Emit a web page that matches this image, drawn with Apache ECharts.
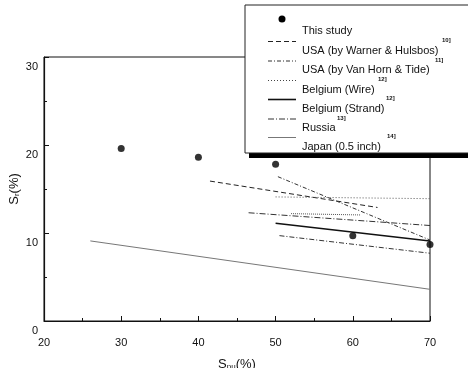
<!DOCTYPE html>
<html>
<head>
<meta charset="utf-8">
<script src="https://cdn.jsdelivr.net/npm/echarts@6/dist/echarts.min.js"></script>
<style>
  html, body { margin: 0; padding: 0; background: #fff; }
  #chart { width: 468px; height: 368px; }
</style>
</head>
<body>
<div id="chart"></div>
<script>
// data
var studyX = [30, 40, 50, 60, 70];
var studyY = [19.6, 18.6, 17.8, 9.7, 8.7];

var warnerX = [41.5, 63.2];
var warnerY = [15.9, 12.9];

var vanHornX = [50.3, 70];
var vanHornY = [16.4, 9.2];

var wireX = [50, 70];
var wireY = [14.1, 13.9];

var wireShortX = [52, 61];
var wireShortY = [12.2, 12.05];

var strandX = [50, 70];
var strandY = [11.1, 9.1];

var russiaX = [46.5, 70];
var russiaY = [12.3, 10.85];

var russiaLowX = [50.5, 70];
var russiaLowY = [9.7, 7.7];

var japanX = [26, 70];
var japanY = [9.1, 3.6];

var xTicks = [20, 30, 40, 50, 60, 70];
var yTicks = [0, 10, 20, 30];

var legendNames = ['This study', 'USA (by Warner & Hulsbos)', 'USA (by Van Horn & Tide)',
  'Belgium (Wire)', 'Belgium (Strand)', 'Russia', 'Japan (0.5 inch)'];
var legendRefs = ['', '10]', '11]', '12]', '12]', '13]', '14]'];

function pairs(xs, ys) {
  var out = [];
  for (var i in xs) {
    out.push([xs[i], ys[i]]);
  }
  return out;
}

var font = 'Arial, "Liberation Sans", Helvetica, sans-serif';

function lineSeries(xs, ys, dash, color, width) {
  return {
    type: 'line',
    data: pairs(xs, ys),
    symbol: 'none',
    silent: true,
    lineStyle: { color: color, width: width, type: dash }
  };
}

var chart = echarts.init(document.getElementById('chart'));

// legend drawn by hand, it sits on top of the frame with a hard shadow
var lx = 245, ly = 5;
var rowY = [31, 50.5, 70, 89.5, 108.5, 128, 146.5];
var refX = [0, 442, 435, 378, 386, 337, 387];
var legendDash = [null, [5, 3], [4, 2, 1, 2], [1, 2], null, [6, 2, 1, 2], null];
var legendColor = ['#000', '#222', '#333', '#444', '#111', '#333', '#777'];
var legendWidth = [1, 1, 1, 1, 1.6, 1, 1];

var legendEls = [
  { type: 'rect', z: 100, shape: { x: lx + 4, y: ly + 5, width: 240, height: 148 }, style: { fill: '#000' } },
  { type: 'rect', z: 101, shape: { x: lx, y: ly, width: 240, height: 148 }, style: { fill: '#fff', stroke: '#222', lineWidth: 1 } }
];
for (var i = 0; i < legendNames.length; i++) {
  if (i === 0) {
    legendEls.push({ type: 'circle', z: 102, shape: { cx: 282, cy: 19, r: 3.5 }, style: { fill: '#000' } });
  } else {
    legendEls.push({
      type: 'line', z: 102,
      shape: { x1: 268, y1: rowY[i] - 9, x2: 296, y2: rowY[i] - 9 },
      style: { stroke: legendColor[i], lineWidth: legendWidth[i], lineDash: legendDash[i] }
    });
  }
  legendEls.push({
    type: 'text', z: 102, x: 302, y: rowY[i],
    style: { text: legendNames[i], font: '11px ' + font, fill: '#111', verticalAlign: 'middle' }
  });
  if (legendRefs[i]) {
    legendEls.push({
      type: 'text', z: 102, x: refX[i], y: rowY[i] - 10,
      style: { text: legendRefs[i], font: 'bold 6px ' + font, fill: '#111', verticalAlign: 'middle' }
    });
  }
}

var option = {
  backgroundColor: '#fff',
  animation: false,
  grid: {
    left: 44, right: 38, top: 57, bottom: 47,
    outerBoundsMode: 'none',
    containLabel: false,
    show: true, borderColor: '#111', borderWidth: 1, backgroundColor: 'transparent'
  },
  xAxis: {
    type: 'value',
    min: xTicks[0], max: xTicks[xTicks.length - 1], interval: 10,
    name: 'S{sub|pu}(%)',
    nameLocation: 'middle',
    nameGap: 37,
    nameMoveOverlap: false,
    nameTextStyle: {
      fontSize: 13, fontFamily: font, color: '#111',
      rich: { sub: { fontSize: 8, fontFamily: font, color: '#111', verticalAlign: 'bottom' } }
    },
    axisLine: { show: true, onZero: false, lineStyle: { color: '#111', width: 1.2 } },
    axisTick: { show: true, inside: true, length: 5, lineStyle: { color: '#111' } },
    minorTick: { show: true, splitNumber: 2, length: 3, lineStyle: { color: '#111' } },
    splitLine: { show: false },
    axisLabel: { margin: 16, fontSize: 11, fontFamily: font, color: '#111' }
  },
  yAxis: {
    type: 'value',
    min: yTicks[0], max: yTicks[yTicks.length - 1], interval: 10,
    name: 'S{sub|r}(%)',
    nameLocation: 'middle',
    nameRotate: 90,
    nameGap: 23,
    nameMoveOverlap: false,
    nameTextStyle: {
      fontSize: 13, fontFamily: font, color: '#111',
      rich: { sub: { fontSize: 8, fontFamily: font, color: '#111', verticalAlign: 'bottom' } }
    },
    axisLine: { show: true, onZero: false, lineStyle: { color: '#111', width: 1.2 } },
    axisTick: { show: true, inside: true, length: 5, lineStyle: { color: '#111' } },
    minorTick: { show: true, splitNumber: 2, length: 3, lineStyle: { color: '#111' } },
    splitLine: { show: false },
    axisLabel: {
      margin: 6, fontSize: 11, fontFamily: font, color: '#111',
      verticalAlign: 'top', padding: [4, 0, 0, 0]
    }
  },
  series: [
    lineSeries(japanX, japanY, 'solid', '#777', 1),
    lineSeries(warnerX, warnerY, [5, 3], '#222', 1),
    lineSeries(vanHornX, vanHornY, [4, 2, 1, 2], '#333', 1),
    lineSeries(wireX, wireY, [1, 2], '#555', 1),
    lineSeries(wireShortX, wireShortY, [1, 1], '#555', 1),
    lineSeries(strandX, strandY, 'solid', '#111', 1.5),
    lineSeries(russiaX, russiaY, [6, 2, 1, 2], '#333', 1),
    lineSeries(russiaLowX, russiaLowY, [5, 2, 1, 2], '#333', 1),
    {
      type: 'scatter',
      data: pairs(studyX, studyY),
      symbol: 'circle',
      symbolSize: 7,
      itemStyle: { color: '#000' },
      z: 5
    }
  ],
  graphic: legendEls
};

chart.setOption(option);
</script>
</body>
</html>
